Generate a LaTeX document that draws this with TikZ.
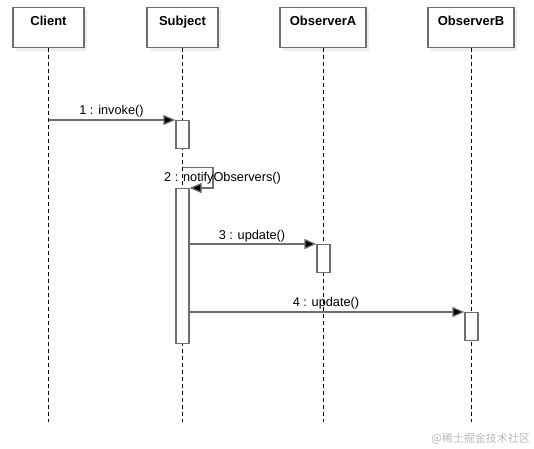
\documentclass[tikz,border=0pt]{standalone}
\usepackage{fontspec}
\setmainfont{Liberation Sans}
\newfontfamily\cjk{Noto Sans CJK SC}
\usetikzlibrary{arrows.meta,positioning,calc}
\definecolor{edgegray}{HTML}{6E6E6E}
\definecolor{shadowgray}{HTML}{EEEEEE}
\tikzset{
  header/.style={draw=edgegray, line width=1.2pt, fill=white, rectangle, minimum width=#1, inner xsep=0pt, inner ysep=0pt,
     text height=17.5pt, text depth=22.5pt, font=\fontsize{13}{15}\selectfont\bfseries, anchor=north},
  lifeline/.style={draw=black, line width=0.9pt, dash pattern=on 4pt off 3pt},
  activation/.style={draw=edgegray, line width=1.2pt, fill=white, rectangle, minimum width=13pt, minimum height=#1, inner sep=0pt, anchor=north},
  msg/.style={draw=edgegray, line width=1.2pt, -{Triangle[length=12pt,width=10pt,fill=black]}},
  msglabel/.style={font=\fontsize{12.75}{15}\selectfont, inner sep=0pt},
  shadowbox/.style={fill=shadowgray, draw=none}
}
\begin{document}
\begin{tikzpicture}[x=1pt,y=-1pt]
\useasboundingbox (0,0) rectangle (534,448);
% shadows
\fill[shadowgray] (16,10) rectangle (87,51);
\fill[shadowgray] (150,10) rectangle (221,51);
\fill[shadowgray] (283,10) rectangle (369,51);
\fill[shadowgray] (431,10) rectangle (517,51);
% headers
\node[header=71pt] (client) at (48.5,7) {Client};
\node[header=71pt] (subject) at (182.5,7) {Subject};
\node[header=86pt] (obsA) at (323,7) {ObserverA};
\node[header=86pt] (obsB) at (471,7) {ObserverB};
% lifeline ends
\coordinate (clientEnd) at (48.5,422);
\coordinate (subjectEnd) at (182.5,422);
\coordinate (obsAEnd) at (323,422);
\coordinate (obsBEnd) at (471,422);
\draw[lifeline] (client.south) -- (clientEnd);
\draw[lifeline] (subject.south) -- (subjectEnd);
\draw[lifeline] (obsA.south) -- (obsAEnd);
\draw[lifeline] (obsB.south) -- (obsBEnd);
% activations
\node[activation=28pt] (act1) at (182.5,120) {};
\node[activation=155pt] (act2) at (182.5,188) {};
\node[activation=28pt] (actA) at (323.5,244) {};
\node[activation=28pt] (actB) at (471.5,312) {};
% message 1
\coordinate (m1start) at (48.5,120);
\draw[msg] (m1start) -- (act1.north west);
\node[msglabel, anchor=base] (l1) at (111.5,114) {1 : invoke()};
% message 2 (self call)
\coordinate (m2start) at (183,167.5);
\coordinate (m2a) at (213,167.5);
\coordinate (m2b) at (213,188);
\draw[msg] (m2start) -- (m2a) -- (m2b) -- (act2.north east);
\node[msglabel, anchor=base west] (l2) at (164,181.5) {2 : notifyObservers()};
% message 3
\draw[msg] (act2.east |- actA.north west) -- (actA.north west);
\node[msglabel, anchor=base] (l3) at (252,239) {3 : update()};
% message 4
\draw[msg] (act2.east |- actB.north west) -- (actB.north west);
\node[msglabel, anchor=base] (l4) at (326,306) {4 : update()};
% watermark
\node[font=\cjk\fontsize{11}{13}\selectfont, text=gray!55, anchor=base east, inner sep=0pt] (wm) at (530,442) {@稀土掘金技术社区};
\end{tikzpicture}
\end{document}
